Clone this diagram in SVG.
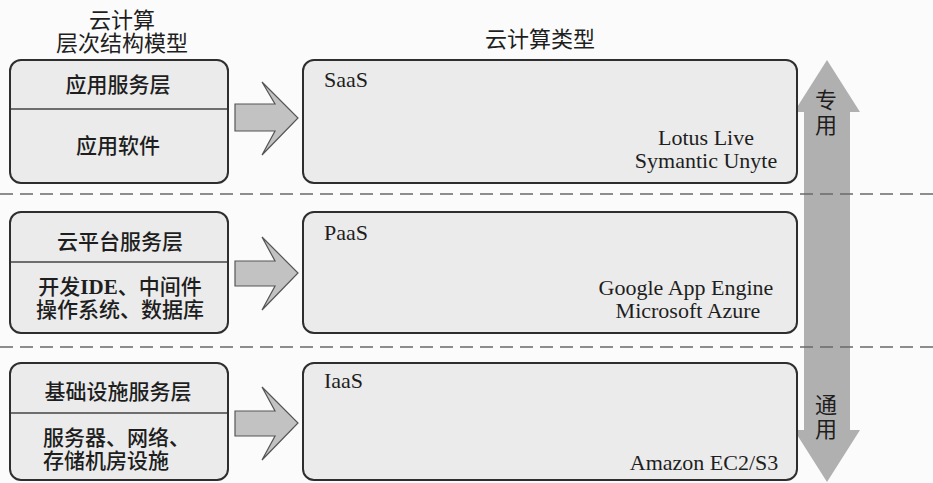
<svg xmlns="http://www.w3.org/2000/svg" width="933" height="483" viewBox="0 0 933 483">
<style>
.box{fill:#ebebeb;stroke:#2e2e2e;stroke-width:2}
.div{stroke:#444;stroke-width:1.3}
.t{font-family:"Liberation Serif","Noto Sans CJK SC",serif;fill:#1e1e1e}
.zh{font-size:22px}
.zhb{font-size:21px;font-weight:500}
.en{font-size:22px}
.mid{text-anchor:middle}
.sep{stroke:#6a6a6a;stroke-width:1.5;stroke-dasharray:13 7;fill:none}
.harrow{fill:#c2c2c2;stroke:#555;stroke-width:1.2;stroke-linejoin:miter}
.varrow{fill:#b0b0b0}
</style>
<rect x="0" y="0" width="933" height="483" fill="#fbfbfb"/>

<g id="titles">
<text class="t zh mid" x="122" y="28">云计算</text>
<text class="t zh mid" x="122" y="51">层次结构模型</text>
<text class="t zh mid" x="540" y="47">云计算类型</text>
</g>

<g id="scale-arrow">
<polygon class="varrow" points="827,60 860,112 850,112 850,430 860,430 827,482 794,430 804,430 804,112 794,112"/>
<text class="t zh mid" x="826" y="108">专</text>
<text class="t zh mid" x="826" y="133">用</text>
<text class="t zh mid" x="826" y="413">通</text>
<text class="t zh mid" x="826" y="437">用</text>
</g>

<g id="separators">
<line class="sep" x1="0" y1="194" x2="933" y2="194"/>
<line class="sep" x1="0" y1="347" x2="933" y2="347"/>
</g>

<g id="layer-saas">
<rect class="box" x="10" y="60" width="218" height="123" rx="11"/>
<line class="div" x1="11" y1="109" x2="227" y2="109"/>
<text class="t zhb mid" x="118" y="92">应用服务层</text>
<text class="t zhb mid" x="118" y="153">应用软件</text>
</g>

<g id="layer-paas">
<rect class="box" x="10" y="212" width="218" height="121" rx="11"/>
<line class="div" x1="11" y1="262" x2="227" y2="262"/>
<text class="t zhb mid" x="120" y="249">云平台服务层</text>
<text class="t zhb mid" x="120" y="294">开发<tspan font-weight="bold">IDE</tspan>、中间件</text>
<text class="t zhb mid" x="120" y="317">操作系统、数据库</text>
</g>

<g id="layer-iaas">
<rect class="box" x="10" y="363" width="218" height="117" rx="11"/>
<line class="div" x1="11" y1="413" x2="227" y2="413"/>
<text class="t zhb mid" x="118" y="399">基础设施服务层</text>
<text class="t zhb" x="43" y="445">服务器、网络、</text>
<text class="t zhb" x="43" y="468">存储机房设施</text>
</g>

<g id="type-saas">
<rect class="box" x="303" y="60" width="494" height="123" rx="11"/>
<text class="t en" x="324" y="87">SaaS</text>
<text class="t en mid" x="706" y="145">Lotus Live</text>
<text class="t en mid" x="706" y="168">Symantic Unyte</text>
</g>

<g id="type-paas">
<rect class="box" x="303" y="212" width="494" height="121" rx="11"/>
<text class="t en" x="324" y="240">PaaS</text>
<text class="t en mid" x="686" y="295">Google App Engine</text>
<text class="t en mid" x="688" y="318">Microsoft Azure</text>
</g>

<g id="type-iaas">
<rect class="box" x="303" y="363" width="494" height="117" rx="11"/>
<text class="t en" x="324" y="388">IaaS</text>
<text class="t en mid" x="704" y="470">Amazon EC2/S3</text>
</g>

<g id="connectors">
<polygon class="harrow" points="235,104 275,104 262,82 298,118 262,155 275,131 235,131"/>
<polygon class="harrow" points="235,261 275,261 262,237 298,273 262,310 275,286 235,286"/>
<polygon class="harrow" points="235,411 275,411 262,387 298,423 262,460 275,436 235,436"/>
</g>
</svg>
